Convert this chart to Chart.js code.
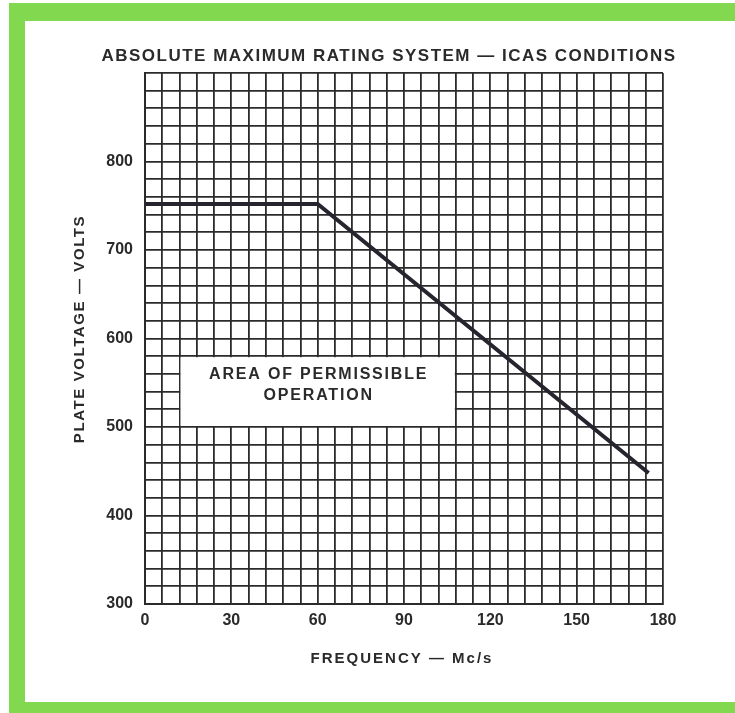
<!DOCTYPE html>
<html>
<head>
<meta charset="utf-8">
<script src="https://cdn.jsdelivr.net/npm/chart.js@4"></script>
<style>
  html, body { margin: 0; padding: 0; background: #fff; }
  #frame { position: absolute; left: 9px; top: 3px; right: 0; bottom: 0; background: #82d84f; }
  #sheet { position: absolute; left: 25px; top: 21px; right: 0; bottom: 11px; background: #fff; }
  #chart { position: absolute; left: 0; top: 0; }
</style>
</head>
<body>
<div id="frame"></div>
<div id="sheet"></div>
<canvas id="chart" width="735" height="713"></canvas>
<script>
// data
const freq = [0, 60, 175];
const plateVolts = [752, 752, 448];

// labelled ticks (grid every 6 Mc/s and every 20 V)
const xLabels = [0, 30, 60, 90, 120, 150, 180];
const yLabels = [300, 400, 500, 600, 700, 800];

// texts
const chartTitle = "ABSOLUTE MAXIMUM RATING SYSTEM — ICAS CONDITIONS";
const xTitle = "FREQUENCY — Mc/s";
const yTitle = "PLATE VOLTAGE — VOLTS";
const areaText = ["AREA OF PERMISSIBLE", "OPERATION"];
// box in data units: x from / to, volts from / to
const areaX = [12, 108];
const areaY = [500, 580];

const ink = "#2a2a2a";
const gridInk = "#2b2b2b";

// spaced out lettering, title and axis names
const textPlugin = {
  id: "texts",
  beforeDatasetsDraw(chart) {
    const { ctx, scales } = chart;
    const x = scales.x, y = scales.y;
    const l = x.getPixelForValue(areaX[0]), r = x.getPixelForValue(areaX[1]);
    const t = y.getPixelForValue(areaY[1]), b = y.getPixelForValue(areaY[0]);
    ctx.save();
    ctx.fillStyle = "#fff";
    ctx.fillRect(l + 1, t + 1, r - l - 2, b - t - 2);
    ctx.fillStyle = ink;
    ctx.font = "bold 16px 'Liberation Sans', Arial, sans-serif";
    ctx.letterSpacing = "1.8px";
    ctx.textAlign = "center";
    ctx.textBaseline = "middle";
    const cx = (l + r) / 2 + 1;
    ctx.fillText(areaText[0], cx, 375);
    ctx.fillText(areaText[1], cx, 396);
    ctx.restore();
  },
  afterDraw(chart) {
    const { ctx } = chart;
    ctx.save();
    ctx.fillStyle = ink;
    ctx.textAlign = "center";
    ctx.textBaseline = "middle";

    ctx.font = "bold 17px 'Liberation Sans', Arial, sans-serif";
    ctx.letterSpacing = "1.5px";
    ctx.fillText(chartTitle, 389, 56);

    ctx.font = "bold 15px 'Liberation Sans', Arial, sans-serif";
    ctx.letterSpacing = "2px";
    ctx.fillText(xTitle, 402, 659);

    ctx.letterSpacing = "1.6px";
    ctx.translate(80, 329);
    ctx.rotate(-Math.PI / 2);
    ctx.fillText(yTitle, 0, 0);
    ctx.restore();
  }
};

const chart = new Chart(document.getElementById("chart"), {
  type: "scatter",
  data: {
    datasets: [{
      data: freq.map((f, i) => ({ x: f, y: plateVolts[i] })),
      showLine: true,
      borderColor: "#26252f",
      borderWidth: 4,
      pointRadius: 0,
      tension: 0
    }]
  },
  options: {
    responsive: false,
    animation: false,
    devicePixelRatio: 1,
    layout: { padding: { top: 73, right: 72, bottom: 0, left: 0 } },
    plugins: {
      legend: { display: false },
      tooltip: { enabled: false }
    },
    scales: {
      x: {
        type: "linear",
        min: 0,
        max: 180,
        afterFit: (s) => { s.height = 109; },
        grid: { color: gridInk, lineWidth: 1.8, drawTicks: false },
        border: { color: gridInk, width: 2 },
        ticks: {
          stepSize: 6,
          autoSkip: false,
          maxRotation: 0,
          padding: 7,
          color: ink,
          font: { family: "'Liberation Sans', Arial, sans-serif", size: 16, weight: "bold" },
          callback: (v) => xLabels.includes(v) ? v : ""
        }
      },
      y: {
        min: 300,
        max: 900,
        afterFit: (s) => { s.width = 145; },
        grid: { color: gridInk, lineWidth: 1.8, drawTicks: false },
        border: { color: gridInk, width: 2 },
        ticks: {
          stepSize: 20,
          autoSkip: false,
          padding: 12,
          color: ink,
          font: { family: "'Liberation Sans', Arial, sans-serif", size: 16, weight: "bold" },
          callback: (v) => yLabels.includes(v) ? v : ""
        }
      }
    }
  },
  plugins: [textPlugin]
});
</script>
</body>
</html>
